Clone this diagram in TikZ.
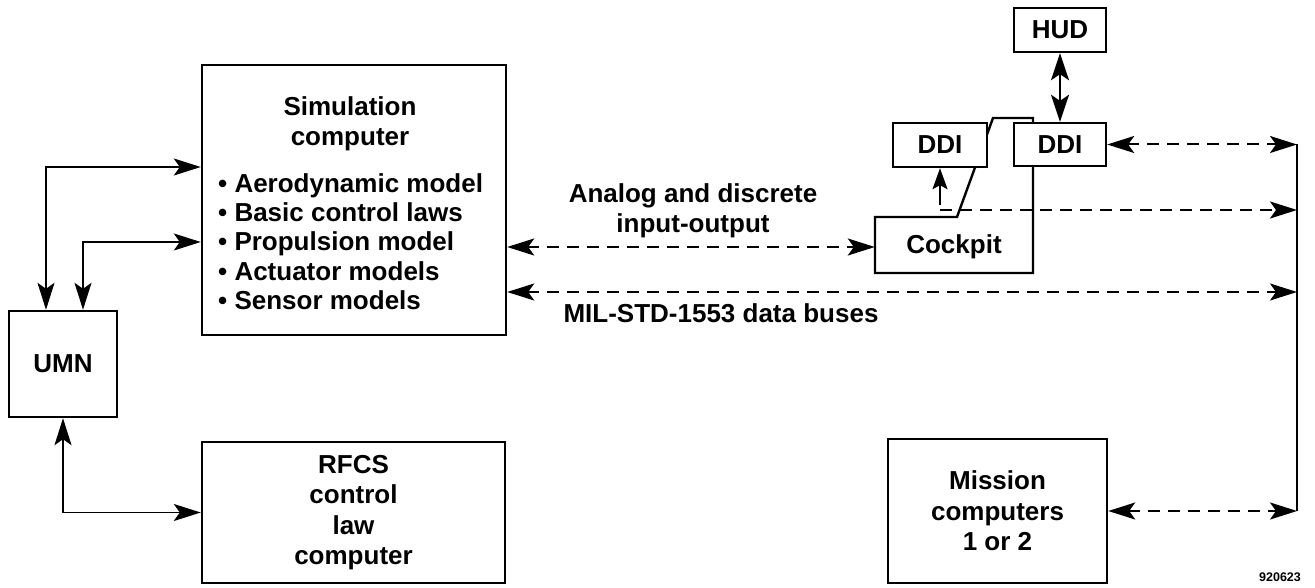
\documentclass[tikz,border=0pt]{standalone}
\usepackage{fontspec}
\setmainfont{Liberation Sans}
\usetikzlibrary{arrows.meta,calc}
\tikzset{
  lbl/.style={font=\bfseries\fontsize{26}{30.5}\selectfont, inner sep=0pt},
  blk/.style={draw, line width=2.4pt, fill=white, lbl, align=center},
  link/.style={line width=1.5pt, >={Stealth[length=27pt,width=17pt,inset=6pt]}},
  bus/.style={link, line width=2pt, dash pattern=on 12pt off 8pt},
}
\begin{document}
\begin{tikzpicture}[x=1pt,y=-1pt]
\useasboundingbox (0,0) rectangle (1315,588);

% simulation computer with its contents
\node[blk, minimum width=304pt, minimum height=270pt] (sim) at (354,200) {};
\node[lbl, anchor=base] (simA) at (350,116) {Simulation};
\node[lbl, anchor=base] (simB) at (350,146) {computer};
\node[lbl, anchor=base west] (m1) at (218,193) {\textbullet\ Aerodynamic model};
\node[lbl, anchor=base west] (m2) at (218,222) {\textbullet\ Basic control laws};
\node[lbl, anchor=base west] (m3) at (218,251) {\textbullet\ Propulsion model};
\node[lbl, anchor=base west] (m4) at (218,280) {\textbullet\ Actuator models};
\node[lbl, anchor=base west] (m5) at (218,309) {\textbullet\ Sensor models};

\node[blk, minimum width=108pt, minimum height=106pt] (umn) at (63,364) {UMN};
\node[blk, minimum width=303pt, minimum height=141pt] (rfcs) at (353.5,512.5)
  {RFCS\\control\\law\\computer};
\node[blk, minimum width=219pt, minimum height=144pt] (mis) at (997.5,511)
  {Mission\\computers\\1 or 2};

% cockpit outline wraps behind both DDIs
\node[lbl, minimum width=158pt, minimum height=56pt] (ck) at (954,247) {Cockpit};
\draw[line width=2.4pt, line join=miter]
  (875,217) -- (957,217) -- (993,118) -- (1033,118) -- (1033,273) -- (875,273) -- cycle;

\node[blk, minimum width=94pt, minimum height=44pt] (ddiL) at (940,145) {DDI};
\node[blk, minimum width=92pt, minimum height=43pt] (ddiR) at (1060,144.5) {DDI};
\node[blk, minimum width=92pt, minimum height=44pt] (hud) at (1060,30) {HUD};

% bus taps on the right
\coordinate (bus1) at (1297,144.5);
\coordinate (bus2) at (1297,210);
\coordinate (bus3) at (1297,292);
\coordinate (bus4) at (1297,511);
\draw[line width=1.5pt] (bus1) -- (bus4);

% UMN links
\draw[link, <->] ([xshift=-17pt]umn.north) |- ([yshift=33pt]sim.west);
\draw[link, <->] ([xshift=20pt]umn.north) |- ([yshift=-42pt]sim.west);
\draw[link, <->] (umn.south) |- (rfcs.west);

% HUD and DDI links
\draw[link, <->, line width=2pt, >={Stealth[length=27pt,width=18pt,inset=6pt]}] (hud.south) -- (ddiR.north);
\draw[link, ->, line width=2pt, >={Stealth[length=21pt,width=15pt,inset=4pt]}] ([yshift=-37pt]ddiL.south) -- (ddiL.south);

% dashed signal and bus lines
\draw[bus, <->] (ddiR.east) -- (bus1);
\draw[bus, ->] (ddiL.south |- bus2) -- (bus2);
\draw[bus, <->] (sim.east |- ck.west) -- (ck.west);
\draw[bus, <->] (sim.east |- bus3) -- (bus3);
\draw[bus, <->] (mis.east) -- (bus4);

% labels
\node[lbl, anchor=base] (aio1) at (693,203) {Analog and discrete};
\node[lbl, anchor=base] (aio2) at (693,233) {input-output};
\node[lbl, anchor=base] (mil) at (721,322) {MIL-STD-1553 data buses};
\node[font=\bfseries\fontsize{12.5}{14}\selectfont, inner sep=0pt] (fig) at (1280,577) {920623};
\end{tikzpicture}
\end{document}
